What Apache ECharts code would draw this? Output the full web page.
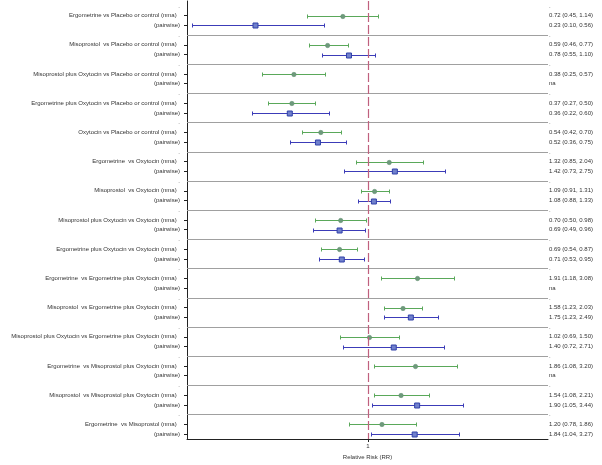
<!DOCTYPE html>
<html><head><meta charset="utf-8">
<script src="https://cdn.jsdelivr.net/npm/echarts@6/dist/echarts.min.js"></script>
<style>html,body{margin:0;padding:0;background:#fff}#c{width:602px;height:465px}</style>
</head><body><div id="c"></div>
<script>
const comparisons = [
  "Ergometrine vs Placebo or control",
  "Misoprostol  vs Placebo or control",
  "Misoprostol plus Oxytocin vs Placebo or control",
  "Ergometrine plus Oxytocin vs Placebo or control",
  "Oxytocin vs Placebo or control",
  "Ergometrine  vs Oxytocin",
  "Misoprostol  vs Oxytocin",
  "Misoprostol plus Oxytocin vs Oxytocin",
  "Ergometrine plus Oxytocin vs Oxytocin",
  "Ergometrine  vs Ergometrine plus Oxytocin",
  "Misoprostol  vs Ergometrine plus Oxytocin",
  "Misoprostol plus Oxytocin vs Ergometrine plus Oxytocin",
  "Ergometrine  vs Misoprostol plus Oxytocin",
  "Misoprostol  vs Misoprostol plus Oxytocin",
  "Ergometrine  vs Misoprostol"
];
const nmaRR    = [0.72,0.59,0.38,0.37,0.54,1.32,1.09,0.70,0.69,1.91,1.58,1.02,1.86,1.54,1.20];
const nmaLower = [0.45,0.46,0.25,0.27,0.42,0.85,0.91,0.50,0.54,1.18,1.23,0.69,1.08,1.08,0.78];
const nmaUpper = [1.14,0.77,0.57,0.50,0.70,2.04,1.31,0.98,0.87,3.08,2.03,1.50,3.20,2.21,1.86];
const pwRR     = [0.23,0.78,null,0.36,0.52,1.42,1.08,0.69,0.71,null,1.75,1.40,null,1.90,1.84];
const pwLower  = [0.10,0.55,null,0.22,0.36,0.73,0.88,0.49,0.53,null,1.23,0.72,null,1.05,1.04];
const pwUpper  = [0.56,1.10,null,0.60,0.75,2.75,1.33,0.96,0.95,null,2.49,2.71,null,3.44,3.27];
const xTickValues = [1];
const xTickLabels = ["1"];
const xAxisTitle = "Relative Risk (RR)";
const nmaSuffix = " (nma)  ";
const pwLabel = "(pairwise)";
const naText = "na";

// build rows: spacer, nma, pairwise per comparison
const rowLabels = [], statLabels = [], tickRows = [], sepRows = [];
const nmaData = [], pwData = [];
function fmt(v, lo, hi) { return v == null ? naText : v.toFixed(2) + " (" + lo.toFixed(2) + ", " + hi.toFixed(2) + ")"; }
comparisons.forEach(function (c, g) {
  const r = 3 * g;
  rowLabels.push("."); statLabels.push(".");
  rowLabels.push(c + nmaSuffix); statLabels.push(fmt(nmaRR[g], nmaLower[g], nmaUpper[g]));
  rowLabels.push(pwLabel); statLabels.push(fmt(pwRR[g], pwLower[g], pwUpper[g]));
  tickRows.push(r + 1, r + 2);
  if (g > 0) sepRows.push(r);
  nmaData.push([r + 1, nmaRR[g], nmaLower[g], nmaUpper[g]]);
  if (pwRR[g] != null) pwData.push([r + 2, pwRR[g], pwLower[g], pwUpper[g]]);
});
const allRows = rowLabels.map(function (_, i) { return i; });

function ciRenderer(kind) {
  return function (params, api) {
    const y = api.value(0), m = api.value(1), lo = api.value(2), hi = api.value(3);
    const pL = api.coord([lo, y]), pH = api.coord([hi, y]), pM = api.coord([m, y]);
    const yy = Math.round(pL[1]) + 0.5;
    const xl = Math.round(pL[0]) + 0.5, xh = Math.round(pH[0]) + 0.5;
    const col = kind === 'nma' ? '#5aa85a' : '#3c3cb8';
    const ls = { stroke: col, lineWidth: 1 };
    const children = [
      { type: 'line', shape: { x1: xl, y1: yy, x2: xh, y2: yy }, style: ls },
      { type: 'line', shape: { x1: xl, y1: yy - 2, x2: xl, y2: yy + 2 }, style: ls },
      { type: 'line', shape: { x1: xh, y1: yy - 2, x2: xh, y2: yy + 2 }, style: ls }
    ];
    if (kind === 'nma') {
      children.push({ type: 'circle', shape: { cx: pM[0], cy: yy, r: 2.2 }, style: { fill: '#6e9a7c', stroke: '#5c8a6a', lineWidth: 0.5 } });
    } else {
      children.push({ type: 'rect', shape: { x: pM[0] - 2.5, y: yy - 2.5, width: 5, height: 5 }, style: { fill: '#7080cc', stroke: '#3040a8', lineWidth: 1 } });
    }
    return { type: 'group', children: children };
  };
}

const textStyle = { fontFamily: 'Liberation Sans, Arial, sans-serif', fontSize: 6, color: '#333' };
const chart = echarts.init(document.getElementById('c'), null, { renderer: 'canvas' });
chart.setOption({
  animation: false,
  backgroundColor: '#fff',
  grid: { left: 187, right: 54, top: 1, bottom: 26, outerBoundsMode: 'none', containLabel: false },
  xAxis: {
    type: 'log', logBase: 10, min: 0.094, max: 10.5,
    axisLine: { show: true, onZero: false, lineStyle: { color: '#222', width: 1 } },
    axisTick: { show: true, customValues: xTickValues, length: 3, lineStyle: { color: '#222' } },
    axisLabel: Object.assign({ customValues: xTickValues, margin: 4,
      formatter: function (v) { const i = xTickValues.indexOf(v); return i >= 0 ? xTickLabels[i] : ''; } }, textStyle),
    splitLine: { show: false },
    name: xAxisTitle, nameLocation: 'middle', nameGap: 9,
    nameTextStyle: textStyle
  },
  yAxis: [{
    type: 'value', min: -0.5, max: 44.5, inverse: true, position: 'left',
    axisLine: { show: true, onZero: false, lineStyle: { color: '#222', width: 1 } },
    axisTick: { show: true, customValues: tickRows, length: 3, lineStyle: { color: '#222' } },
    axisLabel: Object.assign({ customValues: allRows, margin: 7,
      formatter: function (v) { return rowLabels[Math.round(v)] || ''; } }, textStyle),
    splitLine: { show: false }
  }, {
    type: 'value', min: -0.5, max: 44.5, inverse: true, position: 'right',
    axisLine: { show: false, onZero: false }, axisTick: { show: false },
    axisLabel: Object.assign({ customValues: allRows, margin: 1, align: 'left',
      formatter: function (v) { return statLabels[Math.round(v)] || ''; } }, textStyle),
    splitLine: { show: false }
  }],
  series: [{
    type: 'scatter', xAxisIndex: 0, yAxisIndex: 1, symbolSize: 0, silent: true,
    data: nmaData.map(function (d) { return [d[1], d[0]]; }),
    markLine: {
      silent: true, symbol: 'none', label: { show: false }, animation: false,
      lineStyle: { color: '#a0a0a0', type: 'solid', width: 1 },
      data: sepRows.map(function (r) { return { yAxis: r }; })
    },
    z: 1
  }, {
    type: 'scatter', xAxisIndex: 0, yAxisIndex: 0, symbolSize: 0, silent: true,
    data: nmaData.map(function (d) { return [d[1], d[0]]; }),
    markLine: {
      silent: true, symbol: 'none', label: { show: false }, animation: false,
      lineStyle: { color: '#c0607e', type: [9, 3], width: 1.2 },
      data: [{ xAxis: 1 }]
    },
    z: 2
  }, {
    type: 'custom', name: 'nma', xAxisIndex: 0, yAxisIndex: 0,
    renderItem: ciRenderer('nma'), data: nmaData,
    encode: { x: [1, 2, 3], y: 0 }, z: 3
  }, {
    type: 'custom', name: 'pairwise', xAxisIndex: 0, yAxisIndex: 0,
    renderItem: ciRenderer('pw'), data: pwData,
    encode: { x: [1, 2, 3], y: 0 }, z: 3
  }]
});
</script>
</body></html>
